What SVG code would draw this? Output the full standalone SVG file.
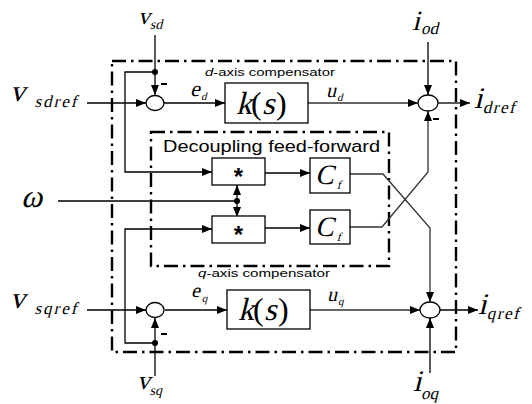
<svg xmlns="http://www.w3.org/2000/svg" width="532" height="404" viewBox="0 0 532 404">
<defs>
<marker id="ah" viewBox="0 0 10 8" refX="10" refY="4" markerWidth="10" markerHeight="8" markerUnits="userSpaceOnUse" orient="auto">
<path d="M0,0 L10,4 L0,8 z" fill="#000"/>
</marker>
</defs>
<style>
.ln{fill:none;stroke:#000;stroke-width:1.3}
.gl{fill:none;stroke:#333;stroke-width:1.3}
.ar{marker-end:url(#ah)}
.box{fill:#fff;stroke:#000;stroke-width:1.3}
.sum{fill:#fff;stroke:#000;stroke-width:1.3}
.dd{fill:none;stroke:#000;stroke-width:2.4;stroke-dasharray:14 5 2.5 5}
.m{font-family:"Liberation Serif","Times New Roman",serif;font-style:normal;fill:#000}
.s{font-family:"Liberation Sans",Arial,sans-serif;fill:#000}
.minus{stroke:#000;stroke-width:2}
</style>
<rect width="532" height="404" fill="#fff"/>

<g id="frames">
<rect class="dd" x="112" y="61" width="344" height="291"/>
<rect class="dd" x="151" y="132" width="238" height="134"/>
<text class="s" x="205" y="76" font-size="10" textLength="130" lengthAdjust="spacingAndGlyphs"><tspan font-style="italic">d</tspan>-axis compensator</text>
<text class="s" x="198" y="277" font-size="10" textLength="132" lengthAdjust="spacingAndGlyphs"><tspan font-style="italic">q</tspan>-axis compensator</text>
<text class="s" x="163" y="152" font-size="16" textLength="217" lengthAdjust="spacingAndGlyphs">Decoupling feed-forward</text>
</g>

<g id="connectors">
<path class="ln ar" d="M155,35 V95"/>
<path class="ln ar" d="M155,72 H125 V172 H212"/>
<path class="ln ar" d="M87,103 H146"/>
<path class="ln ar" d="M164,103 H225"/>
<path class="gl ar" d="M308,103 H418"/>
<path class="ln ar" d="M428,42 V95"/>
<path class="ln ar" d="M438,103 H470"/>
<path class="ln ar" d="M265,173 H310"/>
<path class="ln ar" d="M265,228 H310"/>
<path class="ln" d="M58,201 H237"/>
<path class="ln ar" d="M237,201 V185"/>
<path class="ln ar" d="M237,201 V217"/>
<path class="ln ar" d="M155,343 H125 V229 H212"/>
<path class="ln ar" d="M155,376 V318"/>
<path class="ln ar" d="M87,310 H146"/>
<path class="ln ar" d="M165,310 H227"/>
<path class="gl ar" d="M310,310 H420"/>
<path class="ln ar" d="M430,373 V318"/>
<path class="ln ar" d="M440,310 H478"/>
<path class="gl ar" d="M350,174 H383 L430,228 V302"/>
<path class="gl ar" d="M350,227 H382 L428,172 V111"/>
<circle cx="155" cy="72" r="3" fill="#000"/>
<circle cx="155" cy="343" r="3" fill="#000"/>
<circle cx="237" cy="201" r="3" fill="#000"/>
<line class="minus" x1="161" y1="84" x2="167" y2="84"/>
<line class="minus" x1="161" y1="334" x2="167" y2="334"/>
<line class="minus" x1="433" y1="119" x2="439" y2="119"/>
</g>

<g id="sum_d"><ellipse class="sum" cx="155" cy="103" rx="9" ry="7.5"/></g>
<g id="sum_q"><ellipse class="sum" cx="155" cy="310" rx="9" ry="7.5"/></g>
<g id="sum_id"><ellipse class="sum" cx="428" cy="103" rx="10" ry="8"/></g>
<g id="sum_iq"><ellipse class="sum" cx="430" cy="310" rx="10" ry="8"/></g>

<g id="k_d">
<rect class="box" x="225" y="83" width="83" height="40"/>
<g transform="translate(236,114) skewX(-14)"><text class="m" font-size="32">k</text></g>
<text class="m" x="251" y="114" font-size="32">(</text>
<g transform="translate(262,114) skewX(-14)"><text class="m" font-size="32">s</text></g>
<text class="m" x="276" y="114" font-size="32">)</text>
</g>
<g id="k_q">
<rect class="box" x="227" y="290" width="83" height="39"/>
<g transform="translate(238,320) skewX(-14)"><text class="m" font-size="32">k</text></g>
<text class="m" x="253" y="320" font-size="32">(</text>
<g transform="translate(264,320) skewX(-14)"><text class="m" font-size="32">s</text></g>
<text class="m" x="278" y="320" font-size="32">)</text>
</g>

<g id="mult_1">
<rect class="box" x="212" y="158" width="53" height="27"/>
<text class="s" x="238.5" y="185" font-size="24" font-weight="bold" text-anchor="middle">*</text>
</g>
<g id="mult_2">
<rect class="box" x="212" y="216" width="53" height="27"/>
<text class="s" x="238.5" y="243" font-size="24" font-weight="bold" text-anchor="middle">*</text>
</g>

<g id="cf_1">
<rect class="box" x="310" y="158" width="40" height="35"/>
<g transform="translate(315,184) skewX(-14)"><text class="m" font-size="28">C</text><text class="m" x="23" y="5" font-size="12">f</text></g>
</g>
<g id="cf_2">
<rect class="box" x="310" y="210" width="40" height="34"/>
<g transform="translate(315,236) skewX(-14)"><text class="m" font-size="28">C</text><text class="m" x="23" y="5" font-size="12">f</text></g>
</g>

<g id="labels">
<g transform="translate(138,24) skewX(-14)"><text class="m" font-size="24">v</text><text class="m" x="13" y="5" font-size="14">sd</text></g>
<g transform="translate(10,101) skewX(-14)"><text class="m" font-size="30">v</text><text class="m" x="26" y="6" font-size="17" letter-spacing="2">sdref</text></g>
<g transform="translate(21,207) skewX(-14)"><text class="m" font-size="32">ω</text></g>
<g transform="translate(190,96) skewX(-14)"><text class="m" font-size="22">e</text><text class="m" x="12" y="4" font-size="11">d</text></g>
<g transform="translate(326,97) skewX(-14)"><text class="m" font-size="20">u</text><text class="m" x="12" y="4" font-size="11">d</text></g>
<g transform="translate(412,30) skewX(-14)"><text class="m" font-size="28">i</text><text class="m" x="10" y="4" font-size="17">od</text></g>
<g transform="translate(474,108) skewX(-14)"><text class="m" font-size="30">i</text><text class="m" x="10" y="5" font-size="17" letter-spacing="1.5">dref</text></g>
<g transform="translate(10,308) skewX(-14)"><text class="m" font-size="30">v</text><text class="m" x="26" y="6" font-size="17" letter-spacing="2">sqref</text></g>
<g transform="translate(191,297) skewX(-14)"><text class="m" font-size="20">e</text><text class="m" x="12" y="5" font-size="11">q</text></g>
<g transform="translate(327,301) skewX(-14)"><text class="m" font-size="20">u</text><text class="m" x="12" y="4" font-size="11">q</text></g>
<g transform="translate(137,389) skewX(-14)"><text class="m" font-size="26">v</text><text class="m" x="14" y="6" font-size="14">sq</text></g>
<g transform="translate(413,391) skewX(-14)"><text class="m" font-size="30">i</text><text class="m" x="10" y="8" font-size="17">oq</text></g>
<g transform="translate(478,314) skewX(-14)"><text class="m" font-size="30">i</text><text class="m" x="10" y="5" font-size="17" letter-spacing="1.5">qref</text></g>
</g>
</svg>
